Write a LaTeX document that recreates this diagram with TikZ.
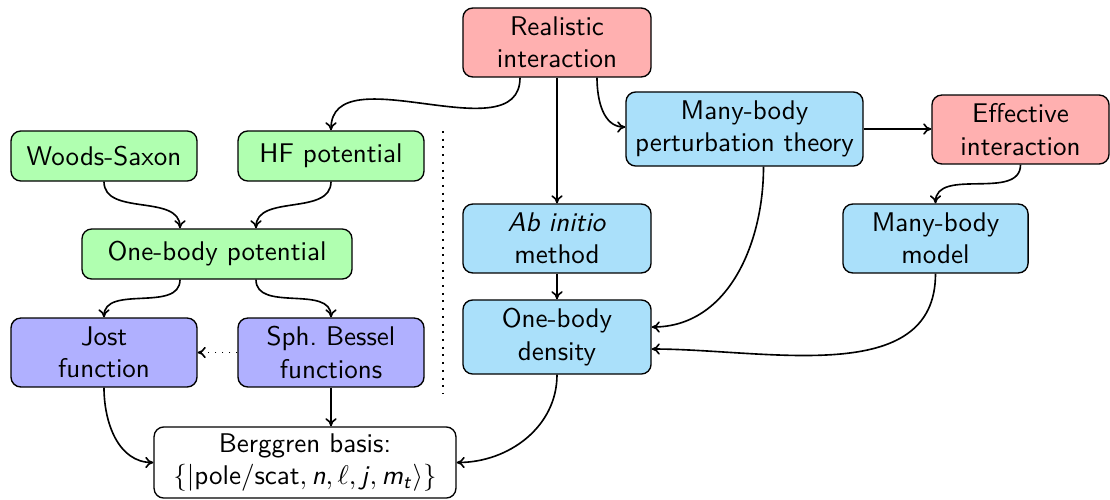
\documentclass[tikz,border=0pt]{standalone}
\usetikzlibrary{calc,arrows.meta}
\definecolor{cred}{RGB}{255,176,176}
\definecolor{cgreen}{RGB}{176,255,176}
\definecolor{cblue}{RGB}{176,176,255}
\definecolor{ccyan}{RGB}{170,224,250}
\begin{document}
\begin{tikzpicture}[x=0.37pt,y=-0.37pt,
  box/.style={draw, rounded corners=3.6pt, align=center, inner sep=0pt, font=\sffamily, line width=0.5pt},
  redbox/.style={box, fill=cred},
  greenbox/.style={box, fill=cgreen},
  bluebox/.style={box, fill=cblue},
  cyanbox/.style={box, fill=ccyan},
  conn/.style={-{To[length=3pt,width=4.2pt]}, line width=0.6pt},
  sepline/.style={line width=0.75pt, dash pattern=on 0.75pt off 2.1pt}
]
\useasboundingbox (0,0) rectangle (1110,499);
% nodes
\node[redbox, minimum width=69.6pt, minimum height=25.5pt] (real) at (557,42.5) {Realistic\\interaction};
\node[greenbox, minimum width=68.8pt, minimum height=18.5pt] (ws) at (104,156) {Woods-Saxon};
\node[greenbox, minimum width=68.8pt, minimum height=18.5pt] (hf) at (331,156) {HF potential};
\node[greenbox, minimum width=99.9pt, minimum height=18.5pt] (obp) at (217,254) {One-body potential};
\node[bluebox, minimum width=68.8pt, minimum height=25.5pt] (jost) at (104,352.5) {Jost\\function};
\node[bluebox, minimum width=68.8pt, minimum height=25.5pt] (bes) at (331,352.5) {Sph.\ Bessel\\functions};
\node[box, minimum width=111.7pt, minimum height=26.3pt] (berg) at (305,462.5)
  {Berggren basis:\\$\{|\mbox{pole/scat},\mbox{\textsl{n}},\ell,\mbox{\textsl{j}},\mbox{\textsl{m}}_{\mbox{\scriptsize\textsl{t}}}\rangle\}$};
\node[cyanbox, minimum width=87.7pt, minimum height=27.4pt] (mbpt) at (744.5,129) {Many-body\\perturbation theory};
\node[redbox, minimum width=65.5pt, minimum height=25.5pt] (eff) at (1020.5,129.5) {Effective\\interaction};
\node[cyanbox, minimum width=69.6pt, minimum height=25.5pt] (abin) at (557,238.5) {\textsl{Ab initio}\\method};
\node[cyanbox, minimum width=68.5pt, minimum height=25.5pt] (mbm) at (935.5,238.5) {Many-body\\model};
\node[cyanbox, minimum width=69.6pt, minimum height=27.4pt] (obd) at (557,337) {One-body\\density};
% separator
\coordinate (sepa) at (443,131);
\coordinate (sepb) at (443,393);
\draw[sepline] (sepa) -- (sepb);
% connectors
\draw[conn] ($(real.south)+(-37,0)$) to[out=-90,in=90] (hf.north);
\draw[conn] (real.south) -- (abin.north);
\draw[conn] ($(real.south)+(40,0)$) to[out=-90,in=180] ($(mbpt.west)+(0,-2)$);
\draw[conn] (mbpt.east) -- (mbpt.east -| eff.west);
\draw[conn] (eff.south) to[out=-90,in=90] (mbm.north);
\draw[conn] ($(mbpt.south)+(19,0)$) to[out=-90,in=0] ($(obd.east)+(0,-10)$);
\draw[conn] (mbm.south) to[out=-90,in=0] ($(obd.east)+(0,12)$);
\draw[conn] (abin.south) -- (obd.north);
\draw[conn] (obd.south) to[out=-90,in=0] (berg.east);
\draw[conn] (ws.south) to[out=-90,in=90] ($(obp.north)+(-37,0)$);
\draw[conn] (hf.south) to[out=-90,in=90] ($(obp.north)+(39,0)$);
\draw[conn] ($(obp.south)+(-37,0)$) to[out=-90,in=90] (jost.north);
\draw[conn] ($(obp.south)+(39,0)$) to[out=-90,in=90] (bes.north);
\draw[conn, dotted] (bes.west) -- (jost.east);
\draw[conn] (jost.south) to[out=-90,in=180] (berg.west);
\draw[conn] (bes.south) -- (bes.south |- berg.north);
\end{tikzpicture}
\end{document}
